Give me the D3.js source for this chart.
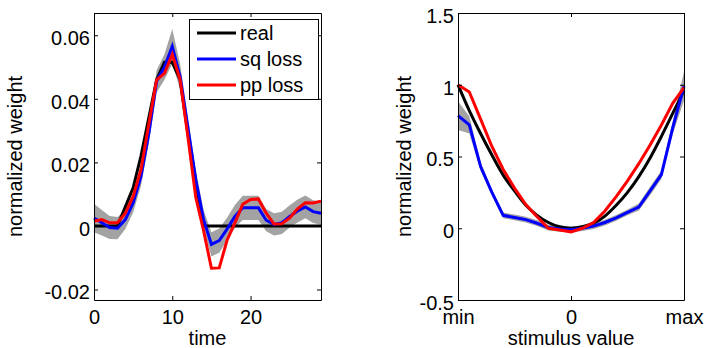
<!DOCTYPE html>
<html>
<head>
<meta charset="utf-8">
<script src="https://cdn.jsdelivr.net/npm/d3@7"></script>
<style>
  body { margin: 0; background: #fff; }
  svg text { font-family: "Liberation Sans", Arial, sans-serif; font-size: 20px; fill: #000; }
</style>
</head>
<body>
<svg id="chart" width="706" height="348"></svg>
<script>
// ---- left panel: weights over time (t = 0..29) ----
const realWeights = [0, 0, 0, 0, 0.006, 0.012, 0.022, 0.034, 0.046, 0.0515,
  0.0515, 0.046, 0.029, 0.014, 0, 0, 0, 0, 0, 0,
  0, 0, 0, 0, 0, 0, 0, 0, 0, 0]
const sqLossWeights = [0.0025, 0.001, -0.0005, -0.0007, 0.002, 0.0072, 0.0156, 0.029, 0.0455, 0.05,
  0.0565, 0.047, 0.031, 0.0146, 0.002, -0.0058, -0.0046, -0.001, 0.003, 0.0057,
  0.0057, 0.0057, 0.0018, 0.0005, 0.001, 0.003, 0.0047, 0.006, 0.0045, 0.004]
const sqLossErr = [0.0045, 0.004, 0.0036, 0.0035, 0.003, 0.003, 0.003, 0.003, 0.0035, 0.004,
  0.0055, 0.004, 0.003, 0.003, 0.003, 0.0038, 0.0038, 0.0036, 0.0036, 0.0038,
  0.0038, 0.0038, 0.0035, 0.0035, 0.0035, 0.0035, 0.0036, 0.0036, 0.0036, 0.0036]
const ppLossWeights = [0.0015, 0.002, 0.001, 0.001, 0.004, 0.0093, 0.0177, 0.032, 0.046, 0.048,
  0.054, 0.046, 0.028, 0.009, -0.0015, -0.0133, -0.0132, -0.0045, 0.001, 0.0068,
  0.0083, 0.0085, 0.004, 0.0006, 0.0007, 0.0025, 0.0054, 0.0073, 0.0072, 0.0078]
const timeTicks = [0, 10, 20]
const weightTicks = [-0.02, 0, 0.02, 0.04, 0.06]

// ---- right panel: weights over stimulus value (21 bins, min..max) ----
const stimReal = [1.0, 0.82, 0.66, 0.51, 0.37, 0.26, 0.16, 0.09, 0.04, 0.01,
  0.0, 0.01, 0.035, 0.085, 0.16, 0.25, 0.36, 0.49, 0.64, 0.8, 0.96]
const stimSq = [0.785, 0.72, 0.43, 0.25, 0.09, 0.075, 0.06, 0.035, 0.005, -0.005,
  -0.01, 0.0, 0.015, 0.04, 0.072, 0.11, 0.148, 0.26, 0.373, 0.7, 0.99]
const stimSqErr = [0.1, 0.06, 0.03, 0.02, 0.02, 0.02, 0.02, 0.02, 0.02, 0.02,
  0.02, 0.02, 0.02, 0.02, 0.02, 0.02, 0.025, 0.03, 0.03, 0.045, 0.1]
const stimPp = [1.0, 0.95, 0.76, 0.57, 0.41, 0.28, 0.165, 0.08, 0.0, -0.012,
  -0.025, 0.0, 0.04, 0.12, 0.22, 0.33, 0.45, 0.58, 0.72, 0.87, 0.98]
const stimTicks = [0, 10, 20]
const stimTickLabels = ['min', '0', 'max']
const stimWeightTicks = [-0.5, 0, 0.5, 1, 1.5]

const legendLabels = ['real', 'sq loss', 'pp loss']
const seriesColors = ['#000000', '#0000ff', '#ff0000']

const svg = d3.select('#chart')
const minusFix = s => s.replace('\u2212', '-')

function drawPanel (cfg) {
  const { x, y, real, sq, err, pp, xTicks, xFormat, yTicks, yFormat, xLabel, yLabelX, smoothReal } = cfg
  const [x0, x1] = x.range()
  const [y0, y1] = y.range() // y0 bottom, y1 top
  const g = svg.append('g')

  // gray band around the sq loss estimate
  const band = d3.area()
    .x((d, i) => x(i))
    .y0((d, i) => y(sq[i] - err[i]))
    .y1((d, i) => y(sq[i] + err[i]))
  g.append('path').datum(sq).attr('d', band).attr('fill', '#a3a3a3')

  const lineOf = (curve) => d3.line().x((d, i) => x(i)).y(d => y(d)).curve(curve)
  const series = [real, sq, pp]
  series.forEach((s, k) => {
    const curve = (k === 0 && smoothReal) ? d3.curveMonotoneX : d3.curveLinear
    g.append('path').datum(s)
      .attr('d', lineOf(curve))
      .attr('fill', 'none')
      .attr('stroke', seriesColors[k])
      .attr('stroke-width', 3)
  })

  // boxed axes, ticks pointing inward
  const bottom = g.append('g').attr('transform', `translate(0,${y0})`)
    .call(d3.axisBottom(x).tickValues(xTicks).tickFormat(xFormat)
      .tickSizeInner(-4).tickSizeOuter(0).tickPadding(10))
  g.append('g').attr('transform', `translate(0,${y1})`)
    .call(d3.axisTop(x).tickValues(xTicks).tickFormat('')
      .tickSizeInner(-4).tickSizeOuter(0))
  const left = g.append('g').attr('transform', `translate(${x0},0)`)
    .call(d3.axisLeft(y).tickValues(yTicks).tickFormat(yFormat)
      .tickSizeInner(-4).tickSizeOuter(0).tickPadding(4))
  g.append('g').attr('transform', `translate(${x1},0)`)
    .call(d3.axisRight(y).tickValues(yTicks).tickFormat('')
      .tickSizeInner(-4).tickSizeOuter(0))
  left.selectAll('text').attr('dy', '0.47em')
  g.selectAll('.domain, .tick line').attr('stroke', '#000').attr('stroke-width', 1)
  bottom.selectAll('text')

  g.append('text')
    .attr('x', (x0 + x1) / 2).attr('y', 345)
    .attr('text-anchor', 'middle')
    .text(xLabel)
  g.append('text')
    .attr('transform', `translate(${yLabelX},${(y0 + y1) / 2}) rotate(-90)`)
    .attr('text-anchor', 'middle')
    .text('normalized weight')
  return g
}

const left = drawPanel({
  x: d3.scaleLinear().domain([0, 29]).range([94, 321]),
  y: d3.scaleLinear().domain([-0.0233, 0.067]).range([300, 13]),
  real: realWeights, sq: sqLossWeights, err: sqLossErr, pp: ppLossWeights,
  xTicks: timeTicks, xFormat: d3.format('d'),
  yTicks: weightTicks, yFormat: d => d === 0 ? '0' : minusFix(d3.format('.2f')(d)),
  xLabel: 'time', yLabelX: 22, smoothReal: false
})

drawPanel({
  x: d3.scaleLinear().domain([0, 20]).range([458, 684]),
  y: d3.scaleLinear().domain([-0.5, 1.5]).range([300, 13]),
  real: stimReal, sq: stimSq, err: stimSqErr, pp: stimPp,
  xTicks: stimTicks, xFormat: (d, i) => stimTickLabels[i],
  yTicks: stimWeightTicks, yFormat: d => minusFix(d3.format('~g')(d)),
  xLabel: 'stimulus value', yLabelX: 411, smoothReal: true
})

// legend in the left panel
const legend = left.append('g').attr('transform', 'translate(189,19)')
legend.append('rect')
  .attr('x', 0.5).attr('y', 0.5).attr('width', 129).attr('height', 80)
  .attr('fill', '#fff').attr('stroke', '#000')
legendLabels.forEach((label, k) => {
  const cy = 14 + k * 26
  legend.append('line')
    .attr('x1', 8).attr('x2', 47).attr('y1', cy).attr('y2', cy)
    .attr('stroke', seriesColors[k]).attr('stroke-width', 3)
  legend.append('text')
    .attr('x', 51).attr('y', cy).attr('dy', '0.35em')
    .text(label)
})
</script>
</body>
</html>
